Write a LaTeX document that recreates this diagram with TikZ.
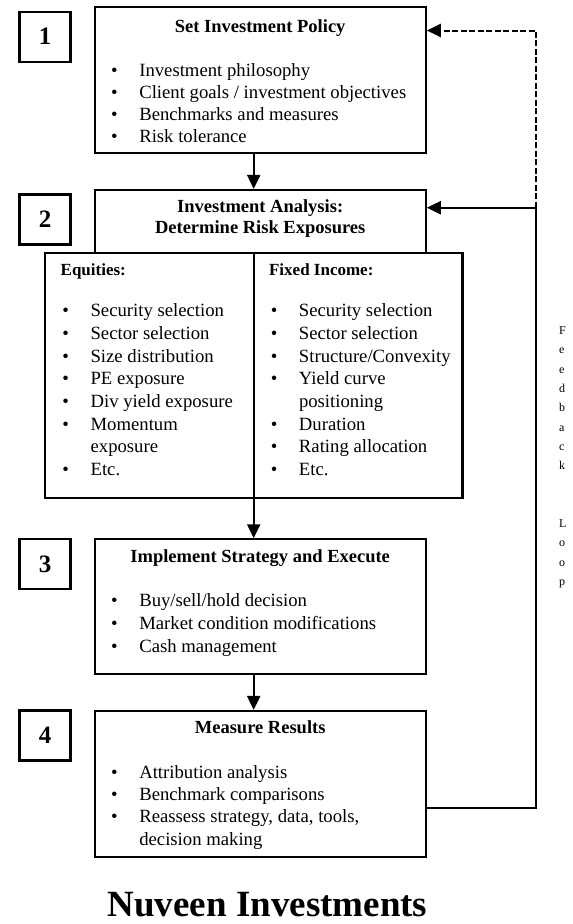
\documentclass[tikz,border=0pt]{standalone}
\usepackage{fontspec}
\setmainfont{Liberation Serif}
\usetikzlibrary{positioning}
\usetikzlibrary{calc}
\usetikzlibrary{arrows.meta}
\newcommand{\bul}{\llap{\textbullet\hspace{21.7pt}}}

\begin{document}
\begin{tikzpicture}[x=1pt, y=1pt, line width=2.2pt,
    box/.style={draw, line width=2.2pt, inner sep=0pt, minimum width=331pt},
    numbox/.style={draw, line width=2.2pt, inner sep=0pt, minimum width=51pt, minimum height=50pt, font=\fontsize{25}{25}\selectfont\bfseries},
    ttl/.style={anchor=base, inner sep=0pt, font=\fontsize{18.5}{22}\selectfont\bfseries},
    sub/.style={anchor=base west, inner sep=0pt, font=\fontsize{17}{20}\selectfont\bfseries},
    itm/.style={anchor=base west, inner sep=0pt, font=\fontsize{18.7}{22}\selectfont},
    fbl/.style={anchor=base west, inner sep=0pt, font=\fontsize{12}{14}\selectfont},
    arr/.style={-{Triangle[length=14pt,width=13pt]}, line width=2.2pt}]
    \useasboundingbox (0,0) rectangle (573,-924);

    \node[numbox] (n1) at (45,-36.7) {1};
    \node[numbox] (n2) at (45,-219.5) {2};
    \node[numbox] (n3) at (45,-564) {3};
    \node[numbox] (n4) at (45,-735.5) {4};

    \node[box, minimum height=146.3pt] (policy) at (260.2,-80.2) {};
    \node[box, minimum height=62.7pt] (analysis) at (260.2,-221.4) {};
    \node[box, minimum width=417.4pt, minimum height=245pt] (exposures) at (253.7,-375.2) {};
    \node[box, minimum height=134.7pt] (implement) at (260.2,-606.7) {};
    \node[box, minimum height=146.3pt] (measure) at (260.2,-784.2) {};

    \node[ttl] (policyT) at ([yshift=-26.3pt]policy.north) {Set Investment Policy};
    \node[ttl] (analysisT1) at ([yshift=-23.3pt]analysis.north) {Investment Analysis:};
    \node[ttl] (analysisT2) at ([yshift=-45pt]analysis.north) {Determine Risk Exposures};
    \node[ttl] (implementT) at ([yshift=-24pt]implement.north) {Implement Strategy and Execute};
    \node[ttl] (measureT) at ([yshift=-23.3pt]measure.north) {Measure Results};
    \node[sub] (eqT) at (59.6,-275) {Equities:};
    \node[sub] (fiT) at (268,-275) {Fixed Income:};

    \foreach \t [count=\i] in {\bul Investment philosophy, \bul Client goals / investment objectives, \bul Benchmarks and measures, \bul Risk tolerance}
        \node[itm] (pol\i) at (138.2,{-76-22.3*(\i-1)}) {\t};
    \foreach \t [count=\i] in {\bul Security selection, \bul Sector selection, \bul Size distribution, \bul PE exposure, \bul Div yield exposure, \bul Momentum, exposure, \bul Etc.}
        \node[itm] (eq\i) at (89.5,{-316.7-22.7*(\i-1)}) {\t};
    \foreach \t [count=\i] in {\bul Security selection, \bul Sector selection, \bul Structure/Convexity, \bul Yield curve, positioning, \bul Duration, \bul Rating allocation, \bul Etc.}
        \node[itm] (fi\i) at (297.9,{-316.7-22.7*(\i-1)}) {\t};
    \foreach \t [count=\i] in {\bul Buy/sell/hold decision, \bul Market condition modifications, \bul Cash management}
        \node[itm] (imp\i) at (138.2,{-606.7-22.8*(\i-1)}) {\t};
    \foreach \t [count=\i] in {\bul Attribution analysis, \bul Benchmark comparisons, {\bul Reassess strategy, data, tools,}, decision making}
        \node[itm] (mea\i) at (138.2,{-778.3-22.3*(\i-1)}) {\t};

    \foreach \c [count=\i] in {F,e,e,d,b,a,c,k}
        \node[fbl] (fb\i) at (558,{-334.5-19.3*(\i-1)}) {\c};
    \foreach \c [count=\i] in {L,o,o,p}
        \node[fbl] (lp\i) at (558,{-527.5-19.3*(\i-1)}) {\c};

    \node[anchor=base, inner sep=0pt, font=\fontsize{37}{37}\selectfont\bfseries] (nuveen) at (267.5,-916.5) {Nuveen Investments};

    \draw[arr] (policy.south -| exposures.north) -- (analysis.north -| exposures.north);
    \draw[arr] (exposures.north) -- (implement.north -| exposures.north);
    \draw[arr] (implement.south -| exposures.north) -- (measure.north -| exposures.north);

    \coordinate (fbot) at (536,-807.7);
    \coordinate (fmid) at (536,-207.7);
    \coordinate (ftop) at (536,-30.5);
    \draw (measure.east |- fbot) -- (fbot) -- (fmid);
    \draw[arr] (fmid) -- (analysis.east |- fmid);
    \draw[arr, dash pattern=on 6pt off 2.5pt, line width=2pt] (fmid) -- (ftop) -- (policy.east |- ftop);
\end{tikzpicture}
\end{document}
